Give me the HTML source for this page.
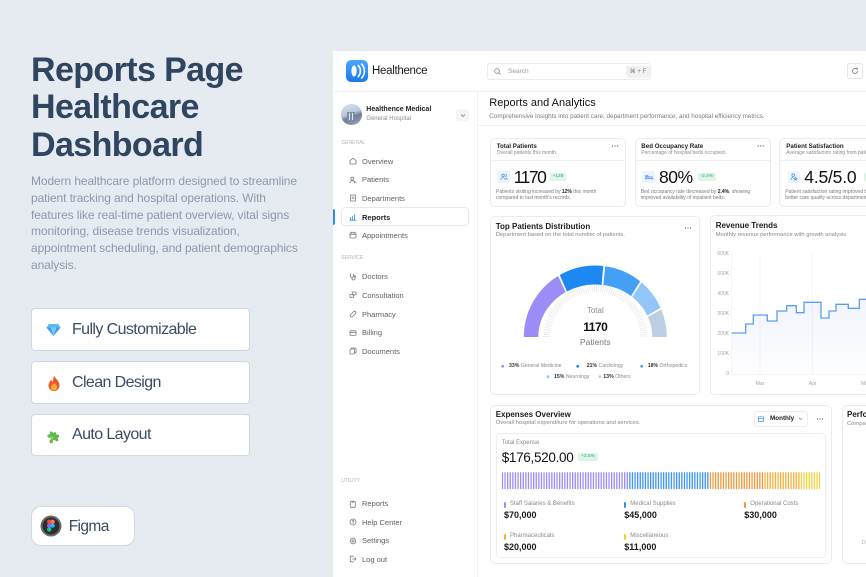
<!DOCTYPE html>
<html><head><meta charset="utf-8">
<style>
body{margin:0;width:866px;height:577px;overflow:hidden;background:#e6ebf2;font-family:"Liberation Sans","DejaVu Sans",sans-serif;position:relative}
.a{position:absolute;white-space:nowrap;line-height:normal}
.btn{position:absolute;left:31px;width:219px;background:#fff;border:1px solid #cdd8e4;border-radius:4px;box-sizing:border-box}
.bt{font-size:16px;color:#3a4c64;letter-spacing:-0.6px}
.nav{font-size:7.5px;color:#5f5f5f}
.ic{position:absolute;left:349px;fill:none;stroke:#7c7c7c;stroke-width:0.8;stroke-linecap:round;stroke-linejoin:round}
.sec{font-size:5px;color:#b3b3b3}
.card{position:absolute;background:#fff;border:1px solid #ebebeb;border-radius:5px;box-sizing:border-box}
.ct{font-size:6.2px;font-weight:bold;color:#1e1e1e}
.cs{font-size:5px;color:#8c8c8c}
.num{font-size:17.5px;color:#111}
.desc{font-size:5px;color:#7a7a7a;line-height:6px}
.badge{position:absolute;border-radius:2px;font-size:4.8px;text-align:center;line-height:8px}
.h2{font-size:8px;font-weight:bold;color:#1b1b1b}
.sub{font-size:5.8px;color:#888}
.lg{font-size:5.2px;color:#8a8a8a}
.lg b{color:#333}
.ax{font-size:5px;color:#a5a5a5}
.el{font-size:6px;color:#8a8a8a}
.ev{font-size:9px;font-weight:bold;color:#1a1a1a}
</style></head><body>

<!-- LEFT PANEL -->
<div class="a" style="left:31px;top:51.8px;font-size:34px;line-height:37.5px;font-weight:bold;color:#2f4560;letter-spacing:-0.6px">Reports Page<br>Healthcare<br>Dashboard</div>
<div class="a" style="left:31px;top:173.3px;font-size:12px;line-height:16.7px;color:#8c99aa;letter-spacing:-0.1px">Modern healthcare platform designed to streamline<br>patient tracking and hospital operations. With<br>features like real-time patient overview, vital signs<br>monitoring, disease trends visualization,<br>appointment scheduling, and patient demographics<br>analysis.</div>

<div class="btn" style="top:308px;height:43px"></div>
<div class="btn" style="top:361px;height:43px"></div>
<div class="btn" style="top:414px;height:42px"></div>
<div class="a bt" style="left:72px;top:320.5px">Fully Customizable</div>
<div class="a bt" style="left:72px;top:373.5px">Clean Design</div>
<div class="a bt" style="left:72px;top:426.3px">Auto Layout</div>
<svg class="a" style="left:46px;top:323px" width="15" height="14" viewBox="0 0 15 14"><polygon points="3,1 12,1 14.5,4.5 7.5,13 0.5,4.5" fill="#5bb6f6"/><polygon points="0.5,4.5 14.5,4.5 7.5,13" fill="#3b9be9"/><polygon points="4.5,4.5 10.5,4.5 7.5,13" fill="#7cc8fa"/></svg>
<svg class="a" style="left:46.5px;top:375px" width="14" height="16" viewBox="0 0 14 16"><path d="M7 0.5C8 3.5 12.5 5.5 12.5 10.5A5.5 5.5 0 0 1 1.5 10.5C1.5 7.5 3.5 6.5 4 4.5C5 6 5.5 7 6 7C6 4.5 6.5 2.5 7 0.5Z" fill="#f2552c"/><path d="M7 7.5C8 9 10 10 10 12.3A3 3 0 0 1 4 12.3C4 10.5 6 9.5 7 7.5Z" fill="#fbb32f"/></svg>
<svg class="a" style="left:46px;top:429px" width="15" height="15" viewBox="0 0 15 15"><path d="M2 4h3.2a1.6 1.6 0 1 1 3 0H11v3a1.6 1.6 0 1 1 0 3v3H8a1.6 1.6 0 1 0-3 0H2v-3a1.6 1.6 0 1 0 0-3Z" fill="#5fb84a" transform="rotate(-20 7.5 7.5)"/><path d="M4 6.5h3v3H4z" fill="#8bd16a" transform="rotate(-20 7.5 7.5)"/></svg>

<div class="a" style="left:31px;top:506px;width:104px;height:40px;background:#fff;border:1px solid #cdd8e4;border-radius:10px;box-sizing:border-box"></div>
<svg class="a" style="left:40px;top:515px" width="22" height="22" viewBox="0 0 22 22"><circle cx="11" cy="11" r="10.5" fill="#6b6b6b"/><circle cx="11" cy="11" r="8.5" fill="#2e2e2e"/><circle cx="9.2" cy="6.8" r="2.2" fill="#f24e1e"/><circle cx="12.6" cy="6.8" r="2.2" fill="#ff7262"/><circle cx="9.2" cy="10.6" r="2.2" fill="#a259ff"/><circle cx="12.6" cy="10.6" r="2.2" fill="#1abcfe"/><circle cx="9.2" cy="14.4" r="2.2" fill="#0acf83"/></svg>
<div class="a bt" style="left:68.7px;top:517.6px;font-size:15.5px">Figma</div>

<!-- DASHBOARD FRAME -->
<div class="a" style="left:333px;top:51px;width:533px;height:526px;background:#fff"></div>
<div class="a" style="left:333px;top:91px;width:533px;height:1px;background:#f0f0f0"></div>
<div class="a" style="left:476.5px;top:91px;width:1px;height:486px;background:#efefef"></div>
<div class="a" style="left:477px;top:125px;width:389px;height:1px;background:#f0f0f0"></div>

<svg class="a" style="left:346px;top:60px" width="22" height="22" viewBox="0 0 22 22"><defs><linearGradient id="lg1" x1="0" y1="0" x2="0" y2="1"><stop offset="0" stop-color="#4aa8ff"/><stop offset="1" stop-color="#1a78ee"/></linearGradient></defs><rect width="22" height="22" rx="5" fill="url(#lg1)"/><ellipse cx="8" cy="11" rx="2.6" ry="5.6" fill="#fff"/><path d="M12.2 5.5c1.5 1.5 2.2 3.4 2.2 5.5s-.7 4-2.2 5.5M15.6 4c1.9 2 2.8 4.4 2.8 7s-.9 5-2.8 7" stroke="#fff" stroke-width="1.6" fill="none" stroke-linecap="round"/></svg>
<div class="a" style="left:372px;top:64.8px;font-size:11.5px;color:#1b1b1b;letter-spacing:-0.3px">Healthence</div>

<div class="a" style="left:487px;top:63px;width:164px;height:17px;border:1px solid #ececec;border-radius:3px;box-sizing:border-box"></div>
<svg class="a" style="left:493.5px;top:68px" width="7" height="7" viewBox="0 0 7 7"><circle cx="3" cy="3" r="2.3" fill="none" stroke="#888" stroke-width="0.8"/><path d="M4.7 4.7L6.5 6.5" stroke="#888" stroke-width="0.8"/></svg>
<div class="a" style="left:508px;top:67.6px;font-size:6.5px;color:#9a9a9a">Search</div>
<div class="a" style="left:626px;top:65.5px;width:24px;height:12px;background:#f1f1f3;border-radius:2px;font-size:6px;color:#777;text-align:center;line-height:12px">⌘ + F</div>
<div class="a" style="left:847px;top:63px;width:16px;height:16px;border:1px solid #e6e6e6;border-radius:3px;box-sizing:border-box"></div>
<svg class="a" style="left:851px;top:67px" width="8" height="8" viewBox="0 0 8 8"><path d="M6.5 4A2.5 2.5 0 1 1 5.6 2.1" fill="none" stroke="#777" stroke-width="0.8"/><path d="M4.8 1.2h1.6v1.6" fill="none" stroke="#777" stroke-width="0.8"/></svg>

<!-- SIDEBAR -->
<div class="a" style="left:341.4px;top:104px;width:20.6px;height:20.6px;border-radius:50%;background:linear-gradient(160deg,#d8e4f0 0%,#b7c8dc 45%,#6f7f94 60%,#9aa8b8 100%);overflow:hidden"><div style="position:absolute;left:6px;top:8px;width:8px;height:9px;background:#7d8ea4"></div><div style="position:absolute;left:8px;top:9px;width:1px;height:7px;background:#dfe7f0"></div><div style="position:absolute;left:11px;top:9px;width:1px;height:7px;background:#dfe7f0"></div></div>
<div class="a" style="left:366.3px;top:106.1px;font-size:7px;font-weight:bold;color:#1f1f1f">Healthence Medical</div>
<div class="a" style="left:366.3px;top:115.7px;font-size:6px;color:#8a8a8a">General Hospital</div>
<div class="a" style="left:456.3px;top:109px;width:12.4px;height:11.7px;background:#f3f4f6;border-radius:3px"></div>
<svg class="a" style="left:459.5px;top:112.5px" width="6" height="5" viewBox="0 0 6 5"><path d="M1 1.5L3 3.5 5 1.5" fill="none" stroke="#666" stroke-width="0.7"/></svg>

<div class="a sec" style="left:341.3px;top:139.7px">GENERAL</div>
<div class="a" style="left:341.3px;top:207.3px;width:127.4px;height:18.4px;border:1px solid #e9e9e9;border-radius:4px;box-sizing:border-box"></div>
<div class="a" style="left:333px;top:208.5px;width:2px;height:16px;background:#2d8cf0;border-radius:0 2px 2px 0"></div>

<svg class="ic" style="top:157.3px" width="8" height="8" viewBox="0 0 8 8"><path d="M1 3.6L4 1.2 7 3.6V7H1Z"/></svg>
<div class="a nav" style="left:362px;top:156.8px">Overview</div>
<svg class="ic" style="top:175.7px" width="8" height="8" viewBox="0 0 8 8"><circle cx="3.3" cy="2.6" r="1.5"/><path d="M1 7c0-1.6 1-2.4 2.3-2.4S5.6 5.4 5.6 7M5.6 5.3l1.2 1.2"/></svg>
<div class="a nav" style="left:362px;top:175.2px">Patients</div>
<svg class="ic" style="top:194.3px" width="8" height="8" viewBox="0 0 8 8"><rect x="1.5" y="1" width="5" height="6"/><path d="M3 3h2M3 4.6h2"/></svg>
<div class="a nav" style="left:362px;top:193.8px">Departments</div>
<svg class="ic" style="top:213px;stroke:#2d8cf0" width="8" height="8" viewBox="0 0 8 8"><path d="M1.5 7V4.5M3.5 7V3M5.5 7V1.5M1 7.2h6"/></svg>
<div class="a nav" style="left:362px;top:212.5px;font-weight:bold;color:#222">Reports</div>
<svg class="ic" style="top:231.3px" width="8" height="8" viewBox="0 0 8 8"><rect x="1" y="1.8" width="6" height="5.2" rx=".6"/><path d="M1 3.6h6M2.8 1v1.4M5.2 1v1.4"/></svg>
<div class="a nav" style="left:362px;top:230.8px">Appointments</div>

<div class="a sec" style="left:341.3px;top:255.3px">SERVICE</div>
<svg class="ic" style="top:272.7px" width="8" height="8" viewBox="0 0 8 8"><path d="M1.5 1v2a1.5 1.5 0 0 0 3 0V1M3 4.5v1a1.5 1.5 0 0 0 3 0V4"/><circle cx="6" cy="3.3" r=".7"/></svg>
<div class="a nav" style="left:362px;top:272.2px">Doctors</div>
<svg class="ic" style="top:291.3px" width="8" height="8" viewBox="0 0 8 8"><rect x="1" y="3.5" width="3.5" height="2.8"/><rect x="3.3" y="1" width="3.7" height="2.8"/></svg>
<div class="a nav" style="left:362px;top:290.8px">Consultation</div>
<svg class="ic" style="top:310px" width="8" height="8" viewBox="0 0 8 8"><rect x="0.6" y="2.8" width="6.8" height="2.6" rx="1.3" transform="rotate(-45 4 4)"/></svg>
<div class="a nav" style="left:362px;top:309.5px">Pharmacy</div>
<svg class="ic" style="top:328.7px" width="8" height="8" viewBox="0 0 8 8"><rect x="1" y="1.8" width="6" height="4.6" rx=".6"/><path d="M1 3.5h6"/></svg>
<div class="a nav" style="left:362px;top:328.2px">Billing</div>
<svg class="ic" style="top:347.3px" width="8" height="8" viewBox="0 0 8 8"><rect x="1" y="2" width="4.5" height="5" rx=".6"/><path d="M2.5 2V1h4.5v4.8H5.5"/></svg>
<div class="a nav" style="left:362px;top:346.8px">Documents</div>

<div class="a sec" style="left:341.3px;top:478.3px">UTILITY</div>
<svg class="ic" style="top:499.7px" width="8" height="8" viewBox="0 0 8 8"><rect x="1.3" y="1.5" width="5" height="5.8" rx=".6"/><path d="M3 1v1.2h1.6V1"/></svg>
<div class="a nav" style="left:362px;top:499.2px">Reports</div>
<svg class="ic" style="top:518.3px" width="8" height="8" viewBox="0 0 8 8"><circle cx="4" cy="4" r="3"/><path d="M3.1 3.2a.9.9 0 1 1 1.2.9c-.3.1-.3.4-.3.7M4 5.6v.1"/></svg>
<div class="a nav" style="left:362px;top:517.8px">Help Center</div>
<svg class="ic" style="top:536.7px" width="8" height="8" viewBox="0 0 8 8"><circle cx="4" cy="4" r="2.8" stroke-dasharray="1.2 0.6"/><circle cx="4" cy="4" r="1.1"/></svg>
<div class="a nav" style="left:362px;top:536.2px">Settings</div>
<svg class="ic" style="top:555.3px" width="8" height="8" viewBox="0 0 8 8"><path d="M4.5 1.2H1.3v5.6h3.2M3.5 4h3.6M5.8 2.8 7 4 5.8 5.2"/></svg>
<div class="a nav" style="left:362px;top:554.8px">Log out</div>

<!-- MAIN HEADER -->
<div class="a" style="left:489.3px;top:97.4px;font-size:11px;color:#111">Reports and Analytics</div>
<div class="a" style="left:489.3px;top:112.5px;font-size:6.3px;color:#7a7a7a">Comprehensive insights into patient care, department performance, and hospital efficiency metrics.</div>

<!-- STAT CARDS -->
<div class="card" style="left:489.5px;top:138.3px;width:136.2px;height:69px"></div>
<div class="card" style="left:634.7px;top:138.3px;width:136px;height:69px"></div>
<div class="card" style="left:779.3px;top:138.3px;width:120px;height:69px"></div>
<div class="a" style="left:490px;top:160px;width:135px;height:1px;background:#f0f0f0"></div>
<div class="a" style="left:635px;top:160px;width:135px;height:1px;background:#f0f0f0"></div>
<div class="a" style="left:780px;top:160px;width:90px;height:1px;background:#f0f0f0"></div>

<div class="a ct" style="left:496.7px;top:142.6px">Total Patients</div>
<div class="a cs" style="left:496.7px;top:149.7px">Overall patients this month.</div>
<div class="a" style="left:497.3px;top:171px;width:12.4px;height:12.4px;background:#eef4fe;border-radius:2px"></div>
<svg class="a" style="left:499.5px;top:173.2px" width="8" height="8" viewBox="0 0 8 8" fill="none" stroke="#3a8ff0" stroke-width="0.7"><circle cx="3" cy="2.4" r="1.3"/><path d="M0.8 7c0-1.5 1-2.3 2.2-2.3S5.2 5.5 5.2 7M5.2 1.2a1.2 1.2 0 0 1 0 2.4M6 4.8c.8.3 1.2 1 1.2 2.2"/></svg>
<div class="a num" style="left:513.7px;top:166.9px;letter-spacing:-1.5px">1170</div>
<div class="badge" style="left:550.3px;top:172.7px;width:15.4px;height:8px;background:#dcf5e7;color:#2aa866">+128</div>
<div class="a desc" style="left:496px;top:188.8px">Patients visiting increased by <b style="color:#222">12%</b> this month<br>compared to last month's records.</div>

<div class="a ct" style="left:641.3px;top:142.6px">Bed Occupancy Rate</div>
<div class="a cs" style="left:641.3px;top:149.7px">Percentage of hospital beds occupied.</div>
<div class="a" style="left:642.3px;top:171px;width:12.4px;height:12.4px;background:#eef4fe;border-radius:2px"></div>
<svg class="a" style="left:644.5px;top:173.2px" width="8" height="8" viewBox="0 0 8 8" fill="none" stroke="#3a8ff0" stroke-width="0.7"><path d="M0.8 2v5M0.8 5.5h6.4V7M0.8 4h6.4v1.5"/><circle cx="2.4" cy="3.2" r=".7"/></svg>
<div class="a num" style="left:659px;top:166.9px;letter-spacing:-0.5px">80%</div>
<div class="badge" style="left:698px;top:172.7px;width:17.7px;height:8px;background:#dcf5e7;color:#2aa866">-2.4%</div>
<div class="a desc" style="left:640.7px;top:188.8px">Bed occupancy rate decreased by <b style="color:#222">2.4%</b>, showing<br>improved availability of inpatient beds.</div>

<div class="a ct" style="left:786.3px;top:142.6px">Patient Satisfaction</div>
<div class="a cs" style="left:786.3px;top:149.7px">Average satisfaction rating from patients.</div>
<div class="a" style="left:787.7px;top:171px;width:12.4px;height:12.4px;background:#eef4fe;border-radius:2px"></div>
<svg class="a" style="left:789.9px;top:173.2px" width="8" height="8" viewBox="0 0 8 8" fill="none" stroke="#3a8ff0" stroke-width="0.7"><circle cx="3.2" cy="2.2" r="1.3"/><path d="M1 7c0-1.6 1-2.5 2.2-2.5M5.5 4.3l.5 1 1 .1-.8.7.2 1-.9-.5-.9.5.2-1-.8-.7 1-.1Z"/></svg>
<div class="a num" style="left:804.3px;top:166.9px;letter-spacing:-0.2px">4.5/5.0</div>
<div class="badge" style="left:864px;top:172.7px;width:15.4px;height:8px;background:#dcf5e7;color:#2aa866">+0.3</div>
<div class="a desc" style="left:785.3px;top:188.8px">Patient satisfaction rating improved by 0.3 points<br>better care quality across departments.</div>

<!-- DONUT CARD -->
<div class="card" style="left:490px;top:216px;width:210px;height:179.3px"></div>
<div class="a h2" style="left:495.7px;top:221.5px">Top Patients Distribution</div>
<div class="a sub" style="left:495.7px;top:231.8px">Department based on the total number of patients.</div>
<div class="a" style="left:565.3px;top:306.2px;width:60px;text-align:center;font-size:8px;color:#8a8a8a">Total</div>
<div class="a" style="left:565.3px;top:319.8px;width:60px;text-align:center;font-size:12px;font-weight:bold;color:#111;letter-spacing:-0.5px">1170</div>
<div class="a" style="left:565.3px;top:336.9px;width:60px;text-align:center;font-size:8.5px;color:#777">Patients</div>
<div class="a lg" style="left:509px;top:363.2px"><b>33%</b> General Medicine</div>
<div class="a lg" style="left:586.7px;top:363.2px"><b>21%</b> Cardiology</div>
<div class="a lg" style="left:647.7px;top:363.2px"><b>18%</b> Orthopedics</div>
<div class="a lg" style="left:554px;top:373.6px"><b>15%</b> Neurology</div>
<div class="a lg" style="left:603.3px;top:373.6px"><b>13%</b> Others</div>

<!-- REVENUE CARD -->
<div class="card" style="left:709.7px;top:215.3px;width:170px;height:180px"></div>
<div class="a h2" style="left:715.7px;top:221.2px">Revenue Trends</div>
<div class="a sub" style="left:715.7px;top:231.5px">Monthly revenue performance with growth analysis</div>
<div class="a ax" style="left:700px;top:251.3px;width:29px;text-align:right">600K</div>
<div class="a ax" style="left:700px;top:271.3px;width:29px;text-align:right">500K</div>
<div class="a ax" style="left:700px;top:291.3px;width:29px;text-align:right">400K</div>
<div class="a ax" style="left:700px;top:311.3px;width:29px;text-align:right">300K</div>
<div class="a ax" style="left:700px;top:331.3px;width:29px;text-align:right">200K</div>
<div class="a ax" style="left:700px;top:351.3px;width:29px;text-align:right">100K</div>
<div class="a ax" style="left:700px;top:371.3px;width:29px;text-align:right">0</div>
<div class="a ax" style="left:745px;top:380.7px;width:30px;text-align:center">Mar</div>
<div class="a ax" style="left:797.7px;top:380.7px;width:30px;text-align:center">Apr</div>
<div class="a ax" style="left:861px;top:380.7px">May</div>

<!-- EXPENSES CARD -->
<div class="card" style="left:490px;top:404.7px;width:342.3px;height:159.3px"></div>
<div class="a h2" style="left:495.7px;top:410.2px">Expenses Overview</div>
<div class="a sub" style="left:495.7px;top:420.2px">Overall hospital expenditure for operations and services.</div>
<div class="a" style="left:753.7px;top:410.7px;width:54px;height:16px;border:1px solid #ececec;border-radius:3px;box-sizing:border-box"></div>
<svg class="a" style="left:758.3px;top:415.7px" width="6" height="6" viewBox="0 0 6 6"><rect x="0.4" y="0.8" width="5.2" height="4.8" rx=".6" fill="none" stroke="#3a8ff0" stroke-width="0.7"/><path d="M0.4 2.4h5.2" stroke="#3a8ff0" stroke-width="0.7"/></svg>
<div class="a" style="left:770px;top:415px;font-size:6.3px;font-weight:bold;color:#222">Monthly</div>
<svg class="a" style="left:797.5px;top:416.5px" width="5" height="4" viewBox="0 0 5 4"><path d="M1 1l1.5 1.5L4 1" fill="none" stroke="#777" stroke-width="0.6"/></svg>
<div class="a" style="left:495.7px;top:433.3px;width:330.6px;height:125px;border:1px solid #eeeeee;border-radius:4px;box-sizing:border-box"></div>
<div class="a" style="left:501.7px;top:440.1px;font-size:6px;color:#8a8a8a">Total Expense</div>
<div class="a" style="left:501.7px;top:449.5px;font-size:13.5px;color:#111;letter-spacing:-0.3px">$176,520.00</div>
<div class="badge" style="left:578.3px;top:453.3px;width:19.4px;height:7.4px;line-height:7.4px;background:#dcf5e7;color:#2aa866">+3.5%</div>

<div class="a" style="left:504px;top:502px;width:2px;height:6px;background:#9b8df6;border-radius:1px"></div>
<div class="a" style="left:624.3px;top:502px;width:2px;height:6px;background:#2f8ff2;border-radius:1px"></div>
<div class="a" style="left:744.3px;top:502px;width:2px;height:6px;background:#f0973a;border-radius:1px"></div>
<div class="a" style="left:504px;top:534px;width:2px;height:6px;background:#f5b02e;border-radius:1px"></div>
<div class="a" style="left:624.3px;top:534px;width:2px;height:6px;background:#f5cf2f;border-radius:1px"></div>
<div class="a el" style="left:510px;top:501.4px">Staff Salaries &amp; Benefits</div>
<div class="a el" style="left:630.3px;top:501.4px">Medical Supplies</div>
<div class="a el" style="left:750.3px;top:501.4px">Operational Costs</div>
<div class="a el" style="left:510px;top:533.4px">Pharmaceuticals</div>
<div class="a el" style="left:630.3px;top:533.4px">Miscellaneous</div>
<div class="a ev" style="left:504px;top:510.3px">$70,000</div>
<div class="a ev" style="left:624.3px;top:510.3px">$45,000</div>
<div class="a ev" style="left:744.3px;top:510.3px">$30,000</div>
<div class="a ev" style="left:504px;top:542.3px">$20,000</div>
<div class="a ev" style="left:624.3px;top:542.3px">$11,000</div>

<!-- PERF CARD -->
<div class="card" style="left:841.7px;top:404.7px;width:60px;height:159.3px"></div>
<div class="a h2" style="left:847px;top:410.2px">Performance</div>
<div class="a sub" style="left:847px;top:420.7px">Compared</div>
<div class="a ax" style="left:862px;top:540px">D</div>

<!-- GRAPHICS OVERLAY -->
<svg class="a" style="left:0;top:0" width="866" height="577" viewBox="0 0 866 577">
<defs>
<pattern id="pp" x="0" y="0" width="2.6" height="20" patternUnits="userSpaceOnUse"><rect width="1.3" height="20" fill="#9b8df6"/></pattern>
<pattern id="pb" x="0" y="0" width="2.6" height="20" patternUnits="userSpaceOnUse"><rect width="1.3" height="20" fill="#3d95f4"/></pattern>
<pattern id="po" x="0" y="0" width="2.6" height="20" patternUnits="userSpaceOnUse"><rect width="1.3" height="20" fill="#f0983c"/></pattern>
<pattern id="pa" x="0" y="0" width="2.6" height="20" patternUnits="userSpaceOnUse"><rect width="1.3" height="20" fill="#f4b13a"/></pattern>
<pattern id="py" x="0" y="0" width="2.6" height="20" patternUnits="userSpaceOnUse"><rect width="1.3" height="20" fill="#f5d03d"/></pattern>
<linearGradient id="rf" x1="0" y1="0" x2="0" y2="1"><stop offset="0" stop-color="#7c8ff0" stop-opacity="0.1"/><stop offset="1" stop-color="#7c8ff0" stop-opacity="0.01"/></linearGradient>
</defs>
<g fill="#555"><circle cx="612.5" cy="146" r="0.6"/><circle cx="615" cy="146" r="0.6"/><circle cx="617.5" cy="146" r="0.6"/>
<circle cx="758.2" cy="146" r="0.6"/><circle cx="760.7" cy="146" r="0.6"/><circle cx="763.2" cy="146" r="0.6"/>
<circle cx="685.5" cy="228" r="0.6"/><circle cx="688" cy="228" r="0.6"/><circle cx="690.5" cy="228" r="0.6"/>
<circle cx="817.5" cy="419" r="0.6"/><circle cx="820" cy="419" r="0.6"/><circle cx="822.5" cy="419" r="0.6"/></g>

<path d="M546.8,337 A48.5,48.5 0 0 1 643.8,337" fill="none" stroke="#e6e6e6" stroke-width="7" stroke-dasharray="0.7 1.5"/>
<path d="M523.8,337 A71.5,71.5 0 0 1 558.05,275.97 L565.60,292.19 A57,52.5 0 0 0 538.3,337 Z" fill="#9b8df6"/>
<path d="M559.76,274.95 A71.5,71.5 0 0 1 603.27,265.94 L601.66,284.83 A57,52.5 0 0 0 566.97,291.44 Z" fill="#1e88f2"/>
<path d="M605.25,266.19 A71.5,71.5 0 0 1 640.10,281.28 L631.02,296.09 A57,52.5 0 0 0 603.23,285.01 Z" fill="#44a0f6"/>
<path d="M641.64,282.55 A71.5,71.5 0 0 1 660.52,307.69 L647.29,315.48 A57,52.5 0 0 0 632.24,297.02 Z" fill="#92c5f8"/>
<path d="M661.31,309.52 A71.5,71.5 0 0 1 666.8,337 L652.3,337 A57,52.5 0 0 0 647.92,316.82 Z" fill="#bccfe3"/>
<circle cx="502.7" cy="366.3" r="1.4" fill="#9b8df6"/>
<circle cx="577.7" cy="366.3" r="1.4" fill="#1e88f2"/>
<circle cx="641.7" cy="366.3" r="1.4" fill="#44a0f6"/>
<circle cx="548" cy="376.7" r="1.4" fill="#92c5f8"/>
<circle cx="600" cy="376.7" r="1.4" fill="#bccfe3"/>

<g stroke="#efefef" stroke-width="0.6"><line x1="731.7" y1="253" x2="731.7" y2="374.3"/><line x1="760" y1="253" x2="760" y2="374.3"/><line x1="812.7" y1="253" x2="812.7" y2="374.3"/><line x1="731.7" y1="374.3" x2="870" y2="374.3"/></g>
<path d="M731.7,333 H745.7 V324 H753.3 V315 H767.3 V321 H777 V311 H786.7 V305.7 H796.3 V312.7 H804 V302.3 H821 V318 H829 V311 H836 V304.3 H848.3 V308.3 H859.3 V299.3 H870 V374.3 H731.7 Z" fill="url(#rf)"/>
<path d="M731.7,333 H745.7 V324 H753.3 V315 H767.3 V321 H777 V311 H786.7 V305.7 H796.3 V312.7 H804 V302.3 H821 V318 H829 V311 H836 V304.3 H848.3 V308.3 H859.3 V299.3 H870" fill="none" stroke="#5b9cf5" stroke-width="1.3"/>

<rect x="501.7" y="472.3" width="126.5" height="16.7" fill="url(#pp)"/>
<rect x="628.2" y="472.3" width="81.2" height="16.7" fill="url(#pb)"/>
<rect x="709.4" y="472.3" width="54.2" height="16.7" fill="url(#po)"/>
<rect x="763.6" y="472.3" width="36" height="16.7" fill="url(#pa)"/>
<rect x="799.6" y="472.3" width="20.7" height="16.7" fill="url(#py)"/>
</svg>
</body></html>
